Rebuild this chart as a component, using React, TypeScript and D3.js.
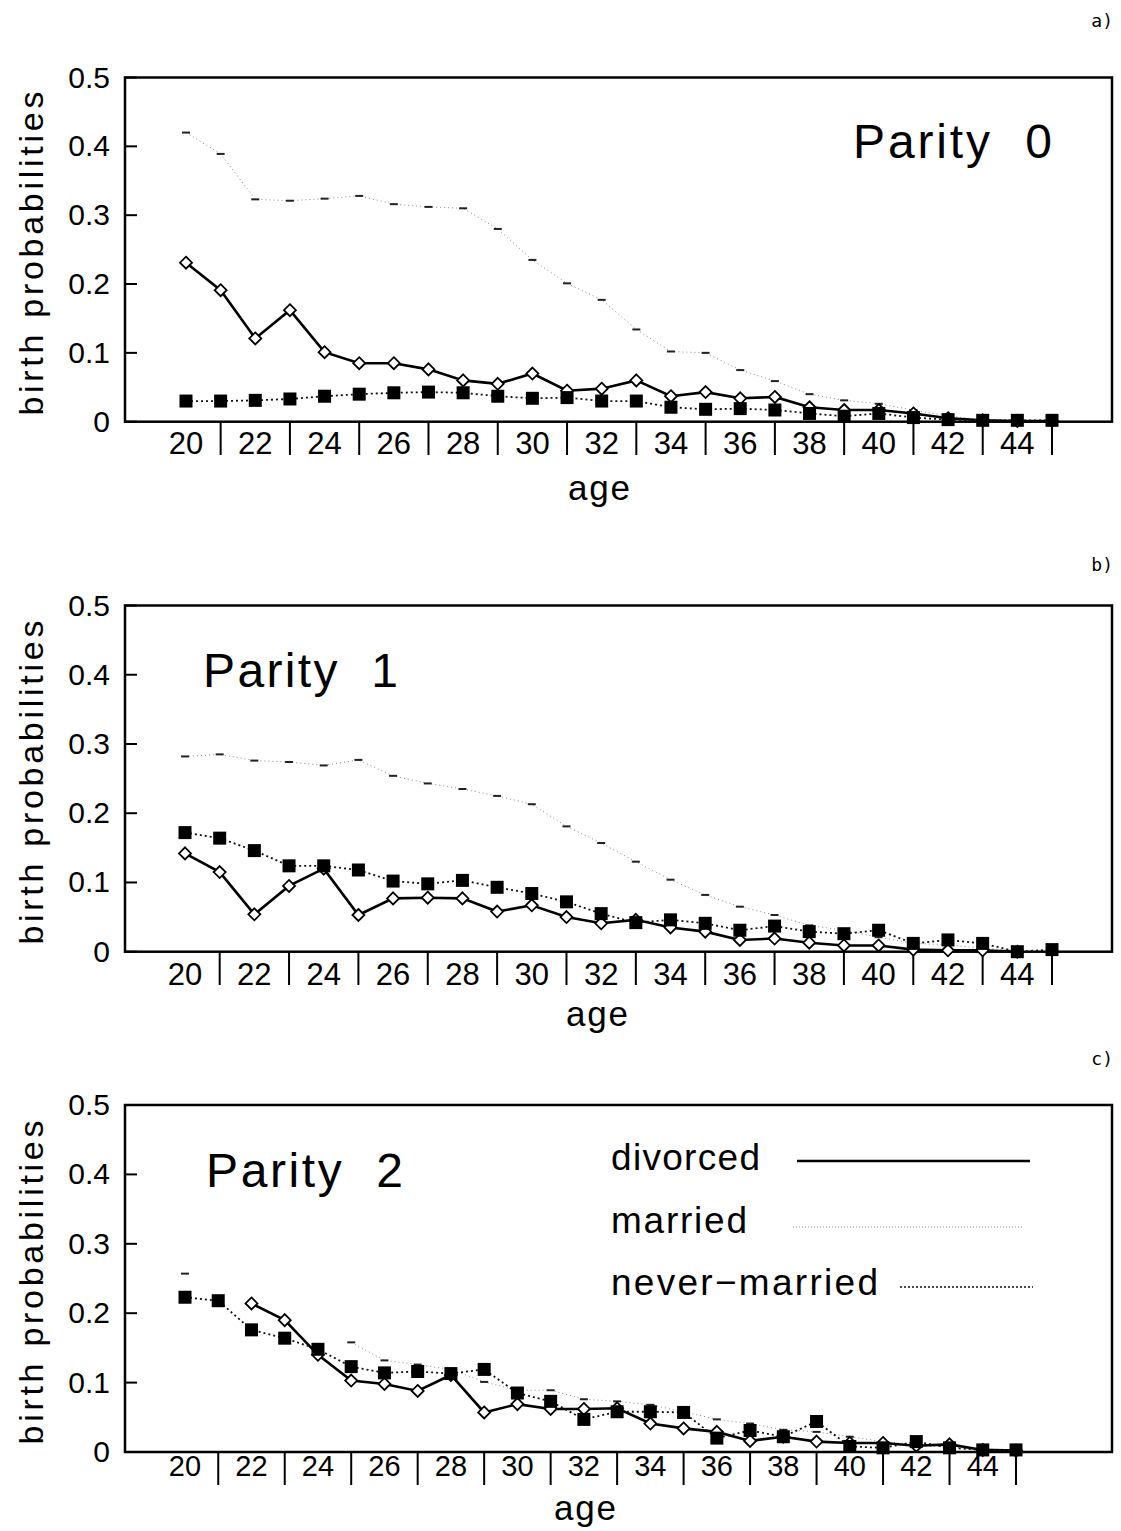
import { useEffect, useRef } from 'react';
import * as d3 from 'd3';

// ages 20..45, one value per age (null = not drawn)
const ages = [20, 21, 22, 23, 24, 25, 26, 27, 28, 29, 30, 31, 32, 33, 34, 35, 36, 37, 38, 39, 40, 41, 42, 43, 44, 45];
const ageTickLabels = ['20', '22', '24', '26', '28', '30', '32', '34', '36', '38', '40', '42', '44'];
const separatorAges = [21, 23, 25, 27, 29, 31, 33, 35, 37, 39, 41, 43, 45];
const probTicks = [0, 0.1, 0.2, 0.3, 0.4, 0.5];
const probTickLabels = ['0', '0.1', '0.2', '0.3', '0.4', '0.5'];

// parity 0
const marriedP0 = [0.42, 0.389, 0.323, 0.321, 0.324, 0.328, 0.316, 0.312, 0.31, 0.28, 0.235, 0.201, 0.177, 0.134, 0.102, 0.1, 0.075, 0.059, 0.04, 0.031, 0.026, 0.017, 0.008, 0.003, 0.002, 0.001];
const neverP0 = [0.03, 0.03, 0.031, 0.033, 0.037, 0.04, 0.042, 0.043, 0.042, 0.037, 0.034, 0.035, 0.03, 0.03, 0.021, 0.018, 0.019, 0.017, 0.012, 0.008, 0.012, 0.006, 0.003, 0.002, 0.002, 0.002];
const divorcedP0 = [0.231, 0.191, 0.121, 0.162, 0.101, 0.085, 0.085, 0.076, 0.06, 0.055, 0.07, 0.045, 0.048, 0.06, 0.037, 0.043, 0.034, 0.036, 0.021, 0.017, 0.017, 0.012, 0.005, 0.002, 0.001, 0.001];

// parity 1
const marriedP1 = [0.282, 0.285, 0.276, 0.274, 0.269, 0.277, 0.254, 0.243, 0.235, 0.225, 0.213, 0.181, 0.157, 0.13, 0.104, 0.082, 0.065, 0.053, 0.038, 0.031, 0.021, 0.012, 0.01, 0.005, 0.002, 0.002];
const neverP1 = [0.172, 0.164, 0.146, 0.124, 0.124, 0.118, 0.102, 0.098, 0.103, 0.093, 0.084, 0.072, 0.055, 0.042, 0.046, 0.041, 0.031, 0.037, 0.029, 0.026, 0.031, 0.012, 0.017, 0.012, 0.0, 0.003];
const divorcedP1 = [0.142, 0.115, 0.054, 0.095, 0.12, 0.053, 0.077, 0.078, 0.077, 0.058, 0.067, 0.05, 0.041, 0.046, 0.035, 0.029, 0.017, 0.019, 0.013, 0.009, 0.009, 0.003, 0.002, 0.002, 0.0, null];

// parity 2
const marriedP2 = [0.257, null, null, null, null, 0.158, 0.132, 0.126, 0.119, 0.101, 0.089, 0.089, 0.076, 0.073, 0.068, 0.058, 0.047, 0.041, 0.032, 0.029, 0.022, 0.015, 0.01, 0.007, 0.004, 0.002];
const neverP2 = [0.223, 0.218, 0.176, 0.164, 0.148, 0.123, 0.114, 0.116, 0.113, 0.119, 0.085, 0.073, 0.047, 0.058, 0.058, 0.057, 0.02, 0.031, 0.022, 0.044, 0.008, 0.006, 0.015, 0.006, 0.003, 0.003];
const divorcedP2 = [null, null, 0.214, 0.19, 0.14, 0.103, 0.098, 0.088, 0.111, 0.057, 0.069, 0.062, 0.062, 0.063, 0.041, 0.034, 0.029, 0.016, 0.022, 0.015, 0.013, 0.013, 0.009, 0.011, 0.003, 0.002];

const legendLabels = ['divorced', 'married', 'never\u2212married'];

type Val = number | null;

interface Panel {
  tag: string;
  title: string;
  married: Val[];
  never: Val[];
  divorced: Val[];
  top: number;
  bottom: number;
  x20: number;
  x45: number;
  titleX: number;
  titleY: number;
  titleW: number;
  tickY: number;
  tickSize: number;
  sepBottom: number;
  ageX: number;
  ageY: number;
  tagY: number;
  legend: boolean;
}

const panels: Panel[] = [
  {
    tag: 'a)', title: 'Parity 0', married: marriedP0, never: neverP0, divorced: divorcedP0,
    top: 77.5, bottom: 421.7, x20: 186, x45: 1052, titleX: 853, titleY: 158, titleW: 199,
    tickY: 454, tickSize: 31, sepBottom: 455, ageX: 599, ageY: 500, tagY: 27, legend: false,
  },
  {
    tag: 'b)', title: 'Parity 1', married: marriedP1, never: neverP1, divorced: divorcedP1,
    top: 605.5, bottom: 951.7, x20: 185, x45: 1052, titleX: 203, titleY: 687, titleW: 195,
    tickY: 985, tickSize: 31, sepBottom: 985, ageX: 597, ageY: 1026, tagY: 571, legend: false,
  },
  {
    tag: 'c)', title: 'Parity 2', married: marriedP2, never: neverP2, divorced: divorcedP2,
    top: 1105, bottom: 1452, x20: 185, x45: 1016, titleX: 206, titleY: 1187, titleW: 197,
    tickY: 1476, tickSize: 29, sepBottom: 1485, ageX: 585, ageY: 1520, tagY: 1065, legend: true,
  },
];

const left = 125;
const right = 1112;
const font = '"Liberation Sans", Arial, sans-serif';

export default function App(): JSX.Element {
  const svgRef = useRef<SVGSVGElement>(null);

  useEffect(() => {
    if (!svgRef.current) return;
    svgRef.current.innerHTML = '';
    const svg = d3.select(svgRef.current);

    panels.forEach((p) => {
      const x = d3.scaleLinear([20, 45], [p.x20, p.x45]);
      const y = d3.scaleLinear([0, 0.5], [p.bottom, p.top]);
      const g = svg.append('g');

      // panel tag
      g.append('text')
        .attr('x', 1113)
        .attr('y', p.tagY)
        .attr('text-anchor', 'end')
        .attr('font-family', '"DejaVu Sans Mono", "Liberation Mono", monospace')
        .attr('font-size', 18)
        .text(p.tag);

      // frame
      g.append('rect')
        .attr('x', left)
        .attr('y', p.top)
        .attr('width', right - left)
        .attr('height', p.bottom - p.top)
        .attr('fill', 'none')
        .attr('stroke', '#000')
        .attr('stroke-width', 2.5);

      // y ticks & labels
      g.selectAll('.yt')
        .data(probTicks)
        .enter()
        .append('line')
        .attr('x1', left)
        .attr('x2', left + 12)
        .attr('y1', (d) => y(d))
        .attr('y2', (d) => y(d))
        .attr('stroke', '#000')
        .attr('stroke-width', 2);
      g.selectAll('.yl')
        .data(probTicks)
        .enter()
        .append('text')
        .attr('x', 110)
        .attr('y', (d) => y(d) + 10)
        .attr('text-anchor', 'end')
        .attr('font-family', font)
        .attr('font-size', 30)
        .text((_d, i) => probTickLabels[i]);

      // y label
      const yc = (p.top + p.bottom) / 2 + 4;
      g.append('text')
        .attr('transform', `translate(43,${yc}) rotate(-90)`)
        .attr('text-anchor', 'middle')
        .attr('font-family', font)
        .attr('font-size', 34)
        .attr('textLength', 324)
        .attr('lengthAdjust', 'spacing')
        .text('birth probabilities');

      // x separators and labels
      g.selectAll('.xs')
        .data(separatorAges)
        .enter()
        .append('line')
        .attr('x1', (d) => x(d))
        .attr('x2', (d) => x(d))
        .attr('y1', p.bottom)
        .attr('y2', p.sepBottom)
        .attr('stroke', '#000')
        .attr('stroke-width', 2);
      g.selectAll('.xl')
        .data(ageTickLabels)
        .enter()
        .append('text')
        .attr('x', (d) => x(+d))
        .attr('y', p.tickY)
        .attr('text-anchor', 'middle')
        .attr('font-family', font)
        .attr('font-size', p.tickSize)
        .text((d) => d);

      g.append('text')
        .attr('x', p.ageX)
        .attr('y', p.ageY)
        .attr('text-anchor', 'middle')
        .attr('font-family', font)
        .attr('font-size', 35)
        .attr('textLength', 62)
        .attr('lengthAdjust', 'spacing')
        .text('age');

      // title
      g.append('text')
        .attr('x', p.titleX)
        .attr('y', p.titleY)
        .attr('font-family', font)
        .attr('font-size', 48)
        .attr('textLength', p.titleW)
        .attr('lengthAdjust', 'spacing')
        .text(p.title.replace(' ', '\u00a0 '));

      const line = d3
        .line<Val>()
        .defined((d) => d !== null)
        .x((_d, i) => x(ages[i]))
        .y((d) => y(d as number));

      // married: faint dotted line with small dash markers
      g.append('path')
        .attr('d', line(p.married))
        .attr('fill', 'none')
        .attr('stroke', '#888')
        .attr('stroke-width', 1)
        .attr('stroke-dasharray', '1 3');
      g.selectAll('.mm')
        .data(p.married.map((v, i) => ({ v, a: ages[i] })).filter((d) => d.v !== null))
        .enter()
        .append('line')
        .attr('x1', (d) => x(d.a) - 4)
        .attr('x2', (d) => x(d.a) + 4)
        .attr('y1', (d) => y(d.v as number))
        .attr('y2', (d) => y(d.v as number))
        .attr('stroke', '#222')
        .attr('stroke-width', 2);

      // divorced: solid line with open diamonds
      g.append('path')
        .attr('d', line(p.divorced))
        .attr('fill', 'none')
        .attr('stroke', '#000')
        .attr('stroke-width', 2.6);
      g.selectAll('.dv')
        .data(p.divorced.map((v, i) => ({ v, a: ages[i] })).filter((d) => d.v !== null))
        .enter()
        .append('path')
        .attr('d', (d) => {
          const cx = x(d.a);
          const cy = y(d.v as number);
          return `M${cx},${cy - 6}L${cx + 6},${cy}L${cx},${cy + 6}L${cx - 6},${cy}Z`;
        })
        .attr('fill', '#fff')
        .attr('stroke', '#000')
        .attr('stroke-width', 1.8);

      // never-married: dotted line with filled squares (drawn on top)
      g.append('path')
        .attr('d', line(p.never))
        .attr('fill', 'none')
        .attr('stroke', '#111')
        .attr('stroke-width', 1.8)
        .attr('stroke-dasharray', '2 3');
      g.selectAll('.nm')
        .data(p.never.map((v, i) => ({ v, a: ages[i] })).filter((d) => d.v !== null))
        .enter()
        .append('rect')
        .attr('x', (d) => x(d.a) - 6.5)
        .attr('y', (d) => y(d.v as number) - 6.5)
        .attr('width', 13)
        .attr('height', 13)
        .attr('fill', '#000');

      if (p.legend) {
        const rows = [
          { y: 1170, ly: 1161, x1: 797, x2: 1030, w: 149 },
          { y: 1233, ly: 1227, x1: 793, x2: 1022, w: 136 },
          { y: 1295, ly: 1287, x1: 900, x2: 1033, w: 267 },
        ];
        rows.forEach((r, i) => {
          g.append('text')
            .attr('x', 611)
            .attr('y', r.y)
            .attr('font-family', font)
            .attr('font-size', 37)
            .attr('textLength', r.w)
            .attr('lengthAdjust', 'spacing')
            .text(legendLabels[i]);
          const l = g
            .append('line')
            .attr('x1', r.x1)
            .attr('x2', r.x2)
            .attr('y1', r.ly)
            .attr('y2', r.ly);
          if (i === 0) l.attr('stroke', '#000').attr('stroke-width', 2.6);
          if (i === 1) l.attr('stroke', '#888').attr('stroke-width', 1).attr('stroke-dasharray', '1 2');
          if (i === 2) l.attr('stroke', '#111').attr('stroke-width', 1.6).attr('stroke-dasharray', '2 2');
        });
      }
    });
  }, []);

  return (
    <svg
      ref={svgRef}
      width={1121}
      height={1531}
      viewBox="0 0 1121 1531"
      style={{ position: 'absolute', left: 0, top: 0, background: '#fff' }}
    />
  );
}
